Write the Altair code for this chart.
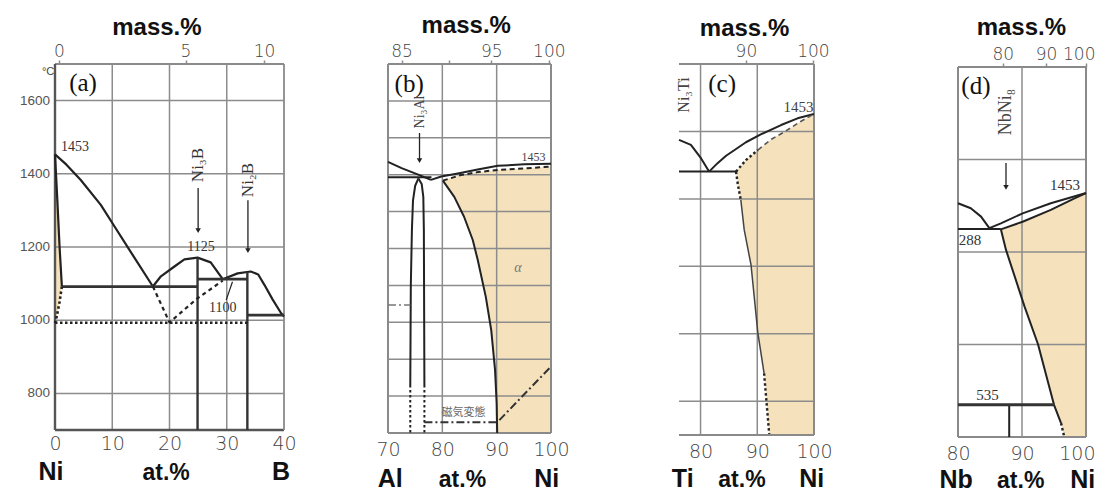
import altair as alt
import pandas as pd

# ---------------- colours / fonts ----------------
BEIGE = "#F5E2BC"
INK = "#222222"
GRID = "#8c8c8c"
FRAME_D = "#555555"
FRAME_L = "#8a8a8a"
SANS = "Liberation Sans"
SERIF = "Liberation Serif"
NUM = "DejaVu Sans"

# =========================================================
# Panel (a)  Ni-B   x: at.% B   y: temperature (°C)
# =========================================================
A_XFRAME = [0, 40]
A_TDOM = [700, 1700]
A_BOTTOM_TICKS = [0, 10, 20, 30, 40]
A_TOP_POS = [0.7, 22.8, 36.5]
A_TOP_LAB = ["0", "5", "10"]
A_Y_TICKS = [800, 1000, 1200, 1400, 1600]
A_Y_LABX = -0.87
A_GRID_T = [800, 1000, 1200, 1400, 1600]
A_GRID_X = [10, 20, 30]

A_LIQ1_X = [0, 2, 4.5, 8, 10.4, 13.5, 17.1]
A_LIQ1_T = [1453, 1425, 1383, 1315, 1256, 1180, 1092]
A_LIQ2_X = [17.1, 18.5, 20.8, 22.6, 24.9, 27.2, 29.3]
A_LIQ2_T = [1092, 1120, 1146, 1166, 1171, 1158, 1112]
A_LIQ3_X = [29.3, 31.9, 34.2, 35.5, 36.6, 38.0, 39.5, 40]
A_LIQ3_T = [1112, 1128, 1133, 1125, 1096, 1057, 1019, 1010]
A_SOLIDUS_X = [0, 0.4, 0.8, 1.2]
A_SOLIDUS_T = [1453, 1330, 1200, 1092]
A_SOLVUS_X = [1.2, 0.8, 0.3, 0]
A_SOLVUS_T = [1092, 1050, 1010, 993]
A_EUT_X0 = [1.2, 24.9, 33.6]
A_EUT_X1 = [24.9, 33.6, 40]
A_EUT_T = [1092, 1112, 1014]
A_COMP_X = [24.9, 33.6]
A_COMP_TOP = [1171, 1132]
A_DOT1000_X = [0, 33.6]
A_DOT1000_T = [993, 993]
A_DASH_X = [17.1, 20.0, 24.9, 29.3]
A_DASH_T = [1092, 994, 1060, 1108]
A_POINT_X = [29.9, 31.0]
A_POINT_T = [1055, 1105]
A_ARROW_X = [25.0, 33.7]
A_ARROW_T0 = [1361, 1328]
A_ARROW_T1 = [1245, 1190]
A_FILL_T = [993, 1010, 1050, 1092, 1200, 1330, 1453]
A_FILL_XL = [0, 0, 0, 0, 0, 0, 0]
A_FILL_XR = [0, 0.3, 0.8, 1.2, 0.8, 0.4, 0]

A_PANEL_TXT = [(4.9, 1648, "(a)")]
A_NUM_TXT_L = [(1.05, 1474, "1453")]
A_NUM_TXT_C = [(25.5, 1200, "1125"), (29.3, 1033, "1100")]
A_COMP_TXT = [(25.0, 1424, "Ni₃B"), (33.7, 1383, "Ni₂B")]
A_UNIT_TXT = [(-1.2, 1678, "°C")]
A_MASS_TXT = [(17.8, 1779, "mass.%")]
A_ELEM_TXT = [(-0.7, 563, "Ni"), (39.5, 563, "B")]
A_AT_TXT = [(19.4, 563, "at.%")]

# =========================================================
# Panel (b)  Al-Ni   x: at.% Ni
# =========================================================
B_XFRAME = [70, 100]
B_TDOM = [700, 1700]
B_BOTTOM_TICKS = [70, 80, 90, 100]
B_TOP_POS = [72.5, 81.2, 89.0, 99.6]
B_TOP_LAB = ["85", "", "95", "100"]
B_GRID_T = [800, 900, 1000, 1100, 1200, 1300, 1400, 1500, 1600]
B_GRID_X = [80, 90]

B_LIQ1_X = [70, 72.5, 75.8, 77.9]
B_LIQ1_T = [1435, 1418, 1399, 1386]
B_LIQ2_X = [77.9, 79.8, 83.1, 86.5, 90.2, 95.1, 100]
B_LIQ2_T = [1386, 1395, 1404, 1414, 1424, 1428, 1430]
B_SOLIDUS_X = [80.1, 83.4, 86.5, 90.2, 95.1, 100]
B_SOLIDUS_T = [1384, 1399, 1407, 1413, 1417, 1422]
B_SOLVUS_X = [80.1, 82.2, 84.0, 85.6, 86.5, 88.0, 89.0, 89.7, 90.0, 90.1]
B_SOLVUS_T = [1384, 1340, 1286, 1223, 1170, 1069, 979, 871, 780, 700]
B_PERI_X = [70, 78]
B_PERI_T = [1393, 1393]
B_N3L_X = [75.6, 75.0, 74.6, 74.4, 74.2, 74.1]
B_N3L_T = [1390, 1370, 1330, 1250, 1100, 830]
B_N3R_X = [75.6, 76.2, 76.5, 76.6, 76.7]
B_N3R_T = [1390, 1375, 1340, 1250, 830]
B_N3LD_X = [74.1, 74.1]
B_N3LD_T = [830, 700]
B_N3RD_X = [76.7, 76.7]
B_N3RD_T = [830, 700]
B_MAG1_X = [76.7, 90.0]
B_MAG1_T = [729, 729]
B_MAG2_X = [90.5, 100]
B_MAG2_T = [735, 880]
B_SHORT_X = [70, 74.1]
B_SHORT_T = [1047, 1047]
B_ARROW_X = [75.8]
B_ARROW_T0 = [1513]
B_ARROW_T1 = [1438]
B_FILL_T = [700, 780, 871, 979, 1069, 1170, 1223, 1286, 1340, 1384, 1399, 1407, 1413, 1417, 1422]
B_FILL_XL = [90.1, 90.0, 89.7, 89.0, 88.0, 86.5, 85.6, 84.0, 82.2, 80.1, 83.4, 86.5, 90.2, 95.1, 100]
B_FILL_XR = [100] * 15

B_PANEL_TXT = [(73.9, 1646, "(b)")]
B_NUM_TXT = [(96.8, 1449, "1453")]
B_COMP_TXT = [(75.8, 1570, "Ni₃Al")]
B_ALPHA_TXT = [(93.9, 1146, "α")]
B_JP_TXT = [(83.9, 755, "磁気変態")]
B_MASS_TXT = [(84.4, 1784, "mass.%")]
B_ELEM_TXT = [(70.4, 554, "Al"), (99.2, 554, "Ni")]
B_AT_TXT = [(83.7, 554, "at.%")]

# =========================================================
# Panel (c)  Ti-Ni   x: at.% Ni
# =========================================================
C_XFRAME = [76.2, 100]
C_TDOM = [500, 1600]
C_BOTTOM_TICKS = [80, 90, 100]
C_TOP_POS = [88.0, 99.8]
C_TOP_LAB = ["90", "100"]
C_GRID_T = [600, 800, 1000, 1200, 1400]
C_GRID_X = [80, 90]

C_LIQ1_X = [76.2, 78.3, 80.1, 81.5]
C_LIQ1_T = [1375, 1360, 1320, 1281]
C_LIQ2_X = [81.5, 83, 84.5, 86, 88, 90.7, 94.2, 97.1, 100]
C_LIQ2_T = [1281, 1306, 1328, 1345, 1368, 1392, 1419, 1439, 1452]
C_EUT_X = [76.2, 86.25]
C_EUT_T = [1281, 1281]
C_SOLD_X = [86.25, 88, 90.1]
C_SOLD_T = [1281, 1315, 1345]
C_SOL2_X = [90.1, 92.5, 94.8, 97.5, 100]
C_SOL2_T = [1345, 1377, 1399, 1428, 1452]
C_SVD1_X = [86.25, 86.6, 87.1]
C_SVD1_T = [1281, 1240, 1197]
C_SOLVUS_X = [87.1, 87.7, 88.9, 90.1, 91.2]
C_SOLVUS_T = [1197, 1108, 1004, 803, 683]
C_SVD2_X = [91.2, 92.1]
C_SVD2_T = [683, 503]
C_FILL_T = [500, 683, 803, 1004, 1108, 1197, 1240, 1281, 1315, 1345, 1377, 1399, 1428, 1452]
C_FILL_XL = [92.1, 91.2, 90.1, 88.9, 87.7, 87.1, 86.6, 86.25, 88, 90.1, 92.5, 94.8, 97.5, 100]
C_FILL_XR = [100] * 14

C_PANEL_TXT = [(83.8, 1541, "(c)")]
C_NUM_TXT = [(99.9, 1473, "1453")]
C_COMP_TXT = [(77.1, 1508, "Ni₃Ti")]
C_MASS_TXT = [(87.75, 1683, "mass.%")]
C_ELEM_TXT = [(76.85, 346, "Ti"), (99.6, 346, "Ni")]
C_AT_TXT = [(87.3, 346, "at.%")]

# =========================================================
# Panel (d)  Nb-Ni   x: at.% Ni
# =========================================================
D_XFRAME = [80, 100]
D_TFRAME = [400, 2000]
D_TDOM = [400, 2013]
D_BOTTOM_TICKS = [80, 90, 100]
D_TOP_POS = [87.0, 93.75, 100]
D_TOP_LAB = ["80", "90", "100"]
D_GRID_T = [800, 1200, 1600]
D_GRID_X = [90]

D_LIQ1_X = [80, 82, 83.6, 84.9]
D_LIQ1_T = [1411, 1389, 1353, 1303]
D_LIQ2_X = [84.9, 86.7, 90.1, 94.5, 100]
D_LIQ2_T = [1303, 1324, 1367, 1411, 1455]
D_EUT_X = [80, 86.7]
D_EUT_T = [1300, 1300]
D_SOLIDUS_X = [86.7, 90.1, 94.5, 98.2, 100]
D_SOLIDUS_T = [1298, 1331, 1382, 1432, 1455]
D_SOLVUS_X = [86.7, 87.5, 90.4, 92.5, 95.0, 96.1]
D_SOLVUS_T = [1298, 1209, 964, 801, 539, 460]
D_SVD_X = [96.1, 96.6]
D_SVD_T = [460, 400]
D_EUTD_X = [80, 95.05]
D_EUTD_T = [539, 539]
D_NI8_X = [88.0, 88.0]
D_NI8_T = [539, 400]
D_ARROW_X = [87.5]
D_ARROW_T0 = [1585]
D_ARROW_T1 = [1480]
D_FILL_T = [400, 460, 539, 801, 964, 1209, 1298, 1331, 1382, 1432, 1455]
D_FILL_XL = [96.6, 96.1, 95.0, 92.5, 90.4, 87.5, 86.7, 90.1, 94.5, 98.2, 100]
D_FILL_XR = [100] * 11

D_PANEL_TXT = [(82.8, 1918, "(d)")]
D_NUM_TXT = [(96.7, 1490, "1453"), (84.6, 582, "535")]
D_NUM_TXT_L = [(80.1, 1252, "288")]
D_COMP_TXT = [(87.5, 1805, "NbNi₈")]
D_MASS_TXT = [(89.9, 2138, "mass.%")]
D_ELEM_TXT = [(79.7, 181, "Nb")]
D_ELEM_TXT_R = [(101.45, 181, "Ni")]
D_AT_TXT = [(89.8, 181, "at.%")]

# ---------------- layout (pixels of the plot cells) ----------------
A_W, A_H = 229, 366
B_W, B_H = 267, 369
C_W, C_H = 263, 371
D_W, D_H = 272, 373
B_GAP, C_GAP, D_GAP = 104, 128, 144


def ext_domain(frame, frame_px, gap_px):
    span = frame[1] - frame[0]
    return [frame[0] - span * gap_px / frame_px, frame[1]]


# ---------------- helpers ----------------
def sc(dom):
    return alt.Scale(domain=dom, nice=False, zero=False)


def curves_frame(curves):
    rows = []
    for name, xs_, ts_ in curves:
        for i, (x, t) in enumerate(zip(xs_, ts_)):
            rows.append({"id": name, "o": i, "x": x, "t": t})
    return pd.DataFrame(rows)


def lines(curves, xs, ys, color=INK, width=2.0, dash=None):
    kw = dict(color=color, strokeWidth=width, strokeJoin="round")
    if dash is not None:
        kw["strokeDash"] = dash
    return alt.Chart(curves_frame(curves)).mark_line(**kw).encode(
        x=alt.X("x:Q", scale=xs, axis=None),
        y=alt.Y("t:Q", scale=ys, axis=None),
        detail="id:N",
        order="o:Q",
    )


def segs(x0, x1, t0, t1, xs, ys, color, width, dash=None, xaxis=None):
    df = pd.DataFrame({"x": x0, "x2": x1, "t": t0, "t2": t1})
    kw = dict(color=color, strokeWidth=width)
    if dash is not None:
        kw["strokeDash"] = dash
    return alt.Chart(df).mark_rule(**kw).encode(
        x=alt.X("x:Q", scale=xs, axis=xaxis), x2=alt.X2("x2:Q"),
        y=alt.Y("t:Q", scale=ys, axis=None), y2=alt.Y2("t2:Q"),
    )


def hgrid(vals, frame, xs, ys, color=GRID, width=1.5):
    n = len(vals)
    return segs([frame[0]] * n, [frame[1]] * n, vals, vals, xs, ys, color, width)


def vgrid(vals, tframe, xs, ys, color=GRID, width=1.5):
    n = len(vals)
    return segs(vals, vals, [tframe[0]] * n, [tframe[1]] * n, xs, ys, color, width)


def fill(ts, xl, xr, xs, ys):
    df = pd.DataFrame({"t": ts, "xl": xl, "xr": xr})
    return alt.Chart(df).mark_area(orient="horizontal", color=BEIGE, opacity=1).encode(
        y=alt.Y("t:Q", scale=ys, axis=None),
        x=alt.X("xl:Q", scale=xs, axis=None),
        x2=alt.X2("xr:Q"),
    )


def texts(rows, xs, ys, size, font=SERIF, color="#222", align="center",
          baseline="middle", angle=None, weight="normal", style="normal"):
    df = pd.DataFrame(rows, columns=["x", "t", "label"])
    kw = dict(font=font, fontSize=size, color=color, align=align, baseline=baseline,
              fontWeight=weight, fontStyle=style)
    if angle is not None:
        kw["angle"] = angle
    return alt.Chart(df).mark_text(**kw).encode(
        x=alt.X("x:Q", scale=xs, axis=None),
        y=alt.Y("t:Q", scale=ys, axis=None),
        text="label:N",
    )


def heads(xv, tv, xs, ys):
    df = pd.DataFrame({"x": xv, "t": tv})
    return alt.Chart(df).mark_point(shape="triangle-down", filled=True, size=30,
                                    color=INK, opacity=1).encode(
        x=alt.X("x:Q", scale=xs, axis=None),
        y=alt.Y("t:Q", scale=ys, axis=None),
    )


def arrows(xv, t0, t1, xs, ys):
    return [segs(xv, xv, t0, t1, xs, ys, INK, 1.3), heads(xv, t1, xs, ys)]


def bottom_axis(values, pad, flush=False):
    extra = dict(labelFlush=True, labelFlushOffset=9) if flush else dict(labelFlush=False)
    return alt.Axis(orient="bottom", values=values, domain=False, ticks=False, grid=False,
                    title=None, labelFont=NUM, labelFontSize=19, labelColor="#444",
                    labelFontWeight=200, labelPadding=pad, labelOverlap=False, **extra)


def top_axis(pos, labs, pad, offset=0, flush=False):
    expr = "''"
    for p, l in zip(reversed(pos), reversed(labs)):
        expr = f"abs(datum.value - {p}) < 0.001 ? '{l}' : ({expr})"
    extra = dict(labelFlush=True, labelFlushOffset=9) if flush else dict(labelFlush=False)
    return alt.Axis(orient="top", values=pos, labelExpr=expr, domain=False, ticks=True,
                    tickSize=4, tickColor=GRID, tickWidth=1.5, grid=False, title=None,
                    labelFont=NUM, labelFontSize=17, labelColor="#444", labelFontWeight=200,
                    labelPadding=pad, labelOverlap=False, offset=offset, **extra)


def common_titles(mass, elem, at, xs, ys):
    return [
        texts(mass, xs, ys, 24, font=SANS, color="#111", baseline="alphabetic", weight="bold"),
        texts(elem, xs, ys, 25, font=SANS, color="#111", baseline="alphabetic", weight="bold"),
        texts(at, xs, ys, 23, font=SANS, color="#111", baseline="alphabetic", weight="bold"),
    ]


DOT = [2.5, 2.5]
DASH = [5, 3.5]
DASHDOT = [8, 3, 2, 3]

# ---------------- panel (a) ----------------
xa, ya = sc(A_XFRAME), sc(A_TDOM)
A_YLAB_ROWS = [(A_Y_LABX, t, str(t)) for t in A_Y_TICKS]
pa_layers = [
    fill(A_FILL_T, A_FILL_XL, A_FILL_XR, xa, ya),
    hgrid(A_GRID_T, A_XFRAME, xa, ya),
    vgrid(A_GRID_X, A_TDOM, xa, ya),
    segs([A_XFRAME[0]], [A_XFRAME[1]], [A_TDOM[0]], [A_TDOM[0]], xa, ya, FRAME_D, 2.4,
         xaxis=bottom_axis(A_BOTTOM_TICKS, 4)),
    segs([A_XFRAME[0]], [A_XFRAME[1]], [A_TDOM[1]], [A_TDOM[1]], xa, ya, FRAME_L, 1.8,
         xaxis=top_axis(A_TOP_POS, A_TOP_LAB, 0)),
    segs([A_XFRAME[0]], [A_XFRAME[0]], [A_TDOM[0]], [A_TDOM[1]], xa, ya, FRAME_D, 2.4),
    segs([A_XFRAME[1]], [A_XFRAME[1]], [A_TDOM[0]], [A_TDOM[1]], xa, ya, FRAME_L, 1.8),
    lines([("l1", A_LIQ1_X, A_LIQ1_T), ("l2", A_LIQ2_X, A_LIQ2_T), ("l3", A_LIQ3_X, A_LIQ3_T),
           ("s", A_SOLIDUS_X, A_SOLIDUS_T)], xa, ya, width=2.2),
    segs(A_EUT_X0, A_EUT_X1, A_EUT_T, A_EUT_T, xa, ya, "#333", 2.8),
    segs(A_COMP_X, A_COMP_X, A_COMP_TOP, [A_TDOM[0]] * 2, xa, ya, "#333", 2.4),
    lines([("d1000", A_DOT1000_X, A_DOT1000_T), ("sv", A_SOLVUS_X, A_SOLVUS_T)], xa, ya,
          width=2.6, dash=DOT),
    lines([("dash", A_DASH_X, A_DASH_T)], xa, ya, width=2.2, dash=[4, 3.5]),
    lines([("ptr", A_POINT_X, A_POINT_T)], xa, ya, width=1.2),
    *arrows(A_ARROW_X, A_ARROW_T0, A_ARROW_T1, xa, ya),
    texts(A_YLAB_ROWS, xa, ya, 13.5, font=SANS, color="#555", align="right"),
    texts(A_PANEL_TXT, xa, ya, 25, color="#111"),
    texts(A_NUM_TXT_L, xa, ya, 14, color="#333", align="left"),
    texts(A_NUM_TXT_C, xa, ya, 14, color="#333"),
    texts(A_COMP_TXT, xa, ya, 17, color="#333", angle=270),
    texts(A_UNIT_TXT, xa, ya, 11, font=SANS, color="#444"),
] + common_titles(A_MASS_TXT, A_ELEM_TXT, A_AT_TXT, xa, ya)
panel_a = alt.layer(*pa_layers).resolve_axis(x="independent").properties(width=A_W, height=A_H)

# ---------------- panel (b) ----------------
xb, yb = sc(ext_domain(B_XFRAME, B_W - B_GAP, B_GAP)), sc(B_TDOM)
pb_layers = [
    fill(B_FILL_T, B_FILL_XL, B_FILL_XR, xb, yb),
    hgrid(B_GRID_T, B_XFRAME, xb, yb),
    vgrid(B_GRID_X, B_TDOM, xb, yb),
    segs([B_XFRAME[0]], [B_XFRAME[1]], [B_TDOM[0]], [B_TDOM[0]], xb, yb, FRAME_L, 2.0,
         xaxis=bottom_axis(B_BOTTOM_TICKS, 7)),
    segs([B_XFRAME[0]], [B_XFRAME[1]], [B_TDOM[1]], [B_TDOM[1]], xb, yb, FRAME_L, 1.8,
         xaxis=top_axis(B_TOP_POS, B_TOP_LAB, 0)),
    segs(B_XFRAME, B_XFRAME, [B_TDOM[0]] * 2, [B_TDOM[1]] * 2, xb, yb, FRAME_L, 2.0),
    lines([("l1", B_LIQ1_X, B_LIQ1_T), ("l2", B_LIQ2_X, B_LIQ2_T), ("sv", B_SOLVUS_X, B_SOLVUS_T),
           ("pe", B_PERI_X, B_PERI_T), ("n3l", B_N3L_X, B_N3L_T), ("n3r", B_N3R_X, B_N3R_T)],
          xb, yb, width=2.0),
    lines([("sol", B_SOLIDUS_X, B_SOLIDUS_T)], xb, yb, width=2.0, dash=DASH),
    lines([("n3ld", B_N3LD_X, B_N3LD_T), ("n3rd", B_N3RD_X, B_N3RD_T)], xb, yb, width=2.0, dash=DOT),
    lines([("m1", B_MAG1_X, B_MAG1_T), ("m2", B_MAG2_X, B_MAG2_T)], xb, yb, width=2.0,
          color="#333", dash=DASHDOT),
    lines([("sh", B_SHORT_X, B_SHORT_T)], xb, yb, width=1.4, color="#777", dash=DASHDOT),
    *arrows(B_ARROW_X, B_ARROW_T0, B_ARROW_T1, xb, yb),
    texts(B_PANEL_TXT, xb, yb, 25, color="#111"),
    texts(B_NUM_TXT, xb, yb, 12, color="#444"),
    texts(B_COMP_TXT, xb, yb, 14, color="#444", angle=270),
    texts(B_ALPHA_TXT, xb, yb, 14, color="#777", style="italic"),
    texts(B_JP_TXT, xb, yb, 11, font="Noto Sans CJK JP", color="#666"),
] + common_titles(B_MASS_TXT, B_ELEM_TXT, B_AT_TXT, xb, yb)
panel_b = alt.layer(*pb_layers).resolve_axis(x="independent").properties(width=B_W, height=B_H)

# ---------------- panel (c) ----------------
xc, yc = sc(ext_domain(C_XFRAME, C_W - C_GAP, C_GAP)), sc(C_TDOM)
pc_layers = [
    fill(C_FILL_T, C_FILL_XL, C_FILL_XR, xc, yc),
    hgrid(C_GRID_T, C_XFRAME, xc, yc),
    vgrid(C_GRID_X, C_TDOM, xc, yc),
    segs([C_XFRAME[0]], [C_XFRAME[1]], [C_TDOM[0]], [C_TDOM[0]], xc, yc, FRAME_L, 2.0,
         xaxis=bottom_axis(C_BOTTOM_TICKS, 7)),
    segs([C_XFRAME[0]], [C_XFRAME[1]], [C_TDOM[1]], [C_TDOM[1]], xc, yc, FRAME_L, 1.8,
         xaxis=top_axis(C_TOP_POS, C_TOP_LAB, 0)),
    segs([C_XFRAME[1]], [C_XFRAME[1]], [C_TDOM[0]], [C_TDOM[1]], xc, yc, FRAME_L, 2.0),
    lines([("l1", C_LIQ1_X, C_LIQ1_T), ("l2", C_LIQ2_X, C_LIQ2_T), ("eu", C_EUT_X, C_EUT_T)],
          xc, yc, width=2.0),
    lines([("sv", C_SOLVUS_X, C_SOLVUS_T)], xc, yc, width=1.5, color="#444"),
    lines([("sd", C_SOLD_X, C_SOLD_T), ("v1", C_SVD1_X, C_SVD1_T), ("v2", C_SVD2_X, C_SVD2_T)],
          xc, yc, width=2.4, dash=DOT),
    lines([("s2", C_SOL2_X, C_SOL2_T)], xc, yc, width=1.6, color="#555", dash=DASH),
    texts(C_PANEL_TXT, xc, yc, 25, color="#111"),
    texts(C_NUM_TXT, xc, yc, 15, color="#444", align="right"),
    texts(C_COMP_TXT, xc, yc, 16, color="#444", angle=270),
] + common_titles(C_MASS_TXT, C_ELEM_TXT, C_AT_TXT, xc, yc)
panel_c = alt.layer(*pc_layers).resolve_axis(x="independent").properties(width=C_W, height=C_H)

# ---------------- panel (d) ----------------
xd, yd = sc(ext_domain(D_XFRAME, D_W - D_GAP, D_GAP)), sc(D_TDOM)
pd_layers = [
    fill(D_FILL_T, D_FILL_XL, D_FILL_XR, xd, yd),
    hgrid(D_GRID_T, D_XFRAME, xd, yd),
    vgrid(D_GRID_X, D_TFRAME, xd, yd),
    segs([D_XFRAME[0]], [D_XFRAME[1]], [D_TFRAME[0]], [D_TFRAME[0]], xd, yd, FRAME_L, 2.0,
         xaxis=bottom_axis(D_BOTTOM_TICKS, 7, flush=True)),
    segs([D_XFRAME[0]], [D_XFRAME[1]], [D_TFRAME[1]], [D_TFRAME[1]], xd, yd, FRAME_L, 1.8,
         xaxis=top_axis(D_TOP_POS, D_TOP_LAB, 0, offset=-3, flush=True)),
    segs(D_XFRAME, D_XFRAME, [D_TFRAME[0]] * 2, [D_TFRAME[1]] * 2, xd, yd, FRAME_L, 2.0),
    lines([("l1", D_LIQ1_X, D_LIQ1_T), ("l2", D_LIQ2_X, D_LIQ2_T), ("eu", D_EUT_X, D_EUT_T),
           ("so", D_SOLIDUS_X, D_SOLIDUS_T), ("sv", D_SOLVUS_X, D_SOLVUS_T),
           ("n8", D_NI8_X, D_NI8_T)], xd, yd, width=2.0),
    lines([("e2", D_EUTD_X, D_EUTD_T)], xd, yd, width=3.0, color="#333"),
    lines([("svd", D_SVD_X, D_SVD_T)], xd, yd, width=2.4, dash=DOT),
    *arrows(D_ARROW_X, D_ARROW_T0, D_ARROW_T1, xd, yd),
    texts(D_PANEL_TXT, xd, yd, 25, color="#111"),
    texts(D_NUM_TXT, xd, yd, 15, color="#333"),
    texts(D_NUM_TXT_L, xd, yd, 15, color="#333", align="left"),
    texts(D_COMP_TXT, xd, yd, 18, color="#444", angle=270),
    texts(D_ELEM_TXT_R, xd, yd, 25, font=SANS, color="#111", align="right",
          baseline="alphabetic", weight="bold"),
] + common_titles(D_MASS_TXT, D_ELEM_TXT, D_AT_TXT, xd, yd)
panel_d = alt.layer(*pd_layers).resolve_axis(x="independent").properties(width=D_W, height=D_H)

chart = alt.hconcat(panel_a, panel_b, panel_c, panel_d, spacing=0, bounds="flush").properties(
    padding={"left": 11, "top": 6, "right": 0, "bottom": 0}
).configure_view(stroke=None)

chart.save("out.html", embed_options={"renderer": "svg", "actions": False})
